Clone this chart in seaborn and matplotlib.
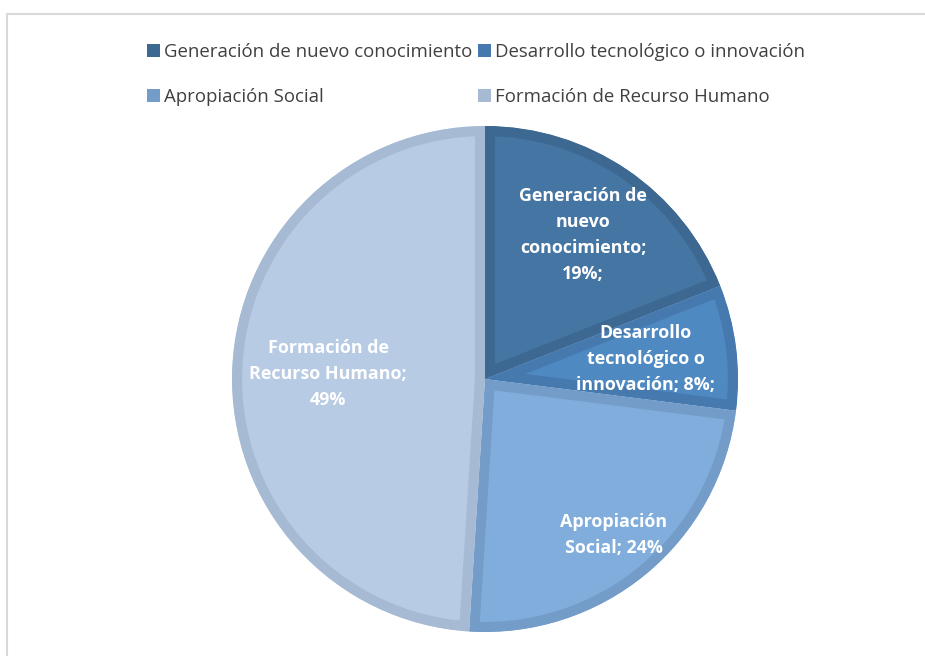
import numpy as np
import matplotlib
matplotlib.use("Agg")
import matplotlib.pyplot as plt
import seaborn as sns
from matplotlib.patches import Patch
from matplotlib.lines import Line2D

categorias = ["Generación de nuevo conocimiento", "Desarrollo tecnológico o innovación",
              "Apropiación Social", "Formación de Recurso Humano"]
porcentajes = [19, 8, 24, 49]
etiquetas = ["Generación de\nnuevo\nconocimiento;\n19%;",
             "Desarrollo\ntecnológico o\ninnovación; 8%;",
             "Apropiación\nSocial; 24%",
             "Formación de\nRecurso Humano;\n49%"]
relleno = ["#4575A3", "#4F89C2", "#80ADDB", "#B7CBE5"]
borde = ["#3D6891", "#4679AE", "#739CC8", "#A6BAD4"]
dist_etiqueta = [0.69, 0.64, 0.80, 0.62]

sns.set_theme(style="white")
plt.rcParams['font.family'] = ['Open Sans', 'DejaVu Sans']

fig = plt.figure(figsize=(9.25, 6.56), dpi=100)
W, H = 925, 656

# marco del grafico
fig.add_artist(Line2D([7 / W, 7 / W], [0, 1 - 14 / H], color="#D9D9D9", lw=1.5))
fig.add_artist(Line2D([7 / W, 1], [1 - 14 / H, 1 - 14 / H], color="#D9D9D9", lw=1.5))

cx, cy, r = 485, 379, 253
ax = fig.add_axes([(cx - r) / W, (H - cy - r) / H, 2 * r / W, 2 * r / H])
wedges, _ = ax.pie(porcentajes, colors=relleno, startangle=90, counterclock=False,
                   radius=1, wedgeprops=dict(linewidth=14.5))
for w, c in zip(wedges, borde):
    # borde solo hacia adentro de cada porcion
    w.set_edgecolor(c)
    w.set_clip_path(w)
    w.set_clip_on(True)

# etiquetas dentro de cada porcion
for w, txt, d in zip(wedges, etiquetas, dist_etiqueta):
    ang = np.deg2rad((w.theta1 + w.theta2) / 2)
    ax.text(d * np.cos(ang), d * np.sin(ang), txt, ha="center", va="center",
            color="white", fontsize=12.9, fontweight="bold", linespacing=1.57)
ax.set_xlim(-1, 1)
ax.set_ylim(-1, 1)
ax.set_aspect("equal")
ax.axis("off")

orden = [0, 2, 1, 3]
handles = [Patch(facecolor=borde[i], edgecolor="none") for i in orden]
labels = [categorias[i] for i in orden]
fig.legend(handles, labels, ncol=2, loc="upper left", bbox_to_anchor=(138 / W, 1 - 34 / H),
           frameon=False, fontsize=13.4, handlelength=0.7, handleheight=0.7,
           handletextpad=0.2, columnspacing=0.3, labelspacing=1.45, borderpad=0,
           labelcolor="#404040")

fig.savefig("out.png", dpi=100, facecolor="white")
